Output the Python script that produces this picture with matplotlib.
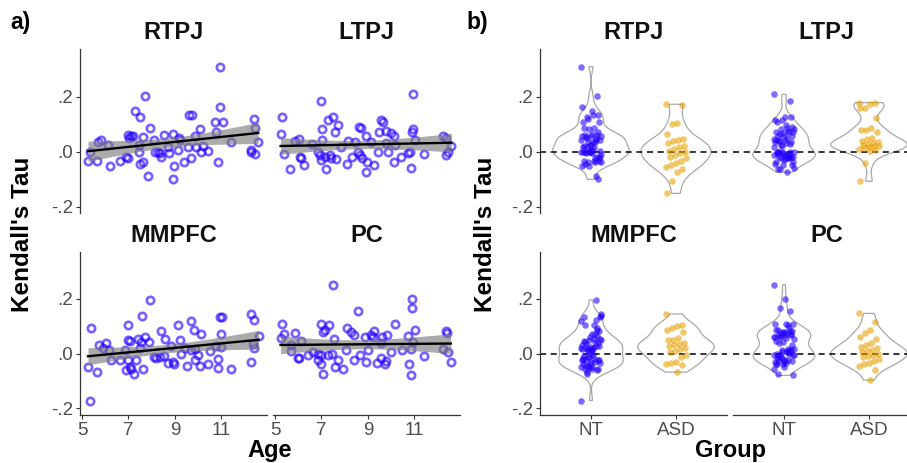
import numpy as np
import matplotlib
matplotlib.use("Agg")
import matplotlib.pyplot as plt

# 字体设置 (Arial 风格)
plt.rcParams['font.family'] = ['Liberation Sans', 'DejaVu Sans']

# ---------------- 数据 ----------------
regions = ['RTPJ', 'LTPJ', 'MMPFC', 'PC']

rtpj_age = [10.96, 7.73, 7.30, 7.51, 10.96, 9.61, 9.76, 12.40, 10.72, 11.09, 7.93, 10.07, 12.44,
            5.80, 5.69, 6.12, 6.98, 7.12, 7.02, 7.20, 7.63, 8.10, 8.53, 8.92, 9.18, 9.86, 10.79,
            11.44, 12.59, 5.34, 5.26, 5.66, 6.22, 6.62, 6.90, 7.00, 7.44, 7.50, 7.64, 7.86, 8.13,
            8.35, 8.28, 8.39, 8.74, 8.69, 8.97, 8.94, 9.14, 9.40, 9.57, 9.71, 9.93, 10.11, 10.21,
            10.43, 10.86, 12.26, 12.30, 12.44, 9.21, 7.46]
rtpj_tau = [0.309, 0.202, 0.148, 0.126, 0.161, 0.133, 0.133, 0.120, 0.107, 0.109, 0.086, 0.082, 0.085,
            0.042, 0.034, 0.024, 0.060, 0.056, 0.048, 0.058, 0.053, 0.042, 0.060, 0.063, 0.050, 0.057, 0.070,
            0.035, 0.034, 0.000, -0.034, -0.034, -0.052, -0.034, -0.018, -0.022, 0.000, -0.045, -0.036, -0.087, -0.002,
            -0.006, 0.000, -0.021, -0.004, 0.018, -0.051, -0.101, 0.006, -0.039, 0.018, -0.024, 0.017, 0.000, 0.022,
            0.002, -0.039, 0.006, 0.000, -0.010, 0.042, 0.024]

ltpj_age = [10.95, 7.00, 5.32, 5.24, 7.28, 7.50, 7.72, 7.04, 7.60, 8.60, 8.69, 9.58, 9.67, 9.48,
            9.80, 9.99, 10.11, 10.95, 10.90, 8.94, 5.85, 6.03, 6.61, 7.04, 8.15, 8.43, 9.15, 9.80,
            10.16, 11.02, 12.24, 12.38, 12.60, 5.37, 6.06, 6.13, 6.25, 5.66, 6.85, 6.92, 7.00, 7.14,
            7.36, 7.43, 7.64, 7.21, 8.10, 8.32, 8.68, 8.76, 8.95, 9.27, 8.91, 9.44, 9.87, 10.11,
            10.42, 10.73, 10.80, 10.87, 11.41, 12.38, 12.46, 7.86, 8.58]
ltpj_tau = [0.208, 0.184, 0.126, 0.063, 0.115, 0.124, 0.097, 0.082, 0.070, 0.090, 0.087, 0.114, 0.107, 0.070,
            0.075, 0.067, 0.055, 0.082, 0.073, 0.055, 0.039, 0.045, 0.027, 0.042, 0.039, 0.034, 0.034, 0.030,
            0.024, 0.042, 0.055, 0.048, 0.022, -0.010, -0.018, -0.024, -0.048, -0.064, 0.000, -0.012, -0.030, -0.018,
            -0.012, -0.022, -0.028, -0.064, -0.044, -0.018, -0.012, -0.024, -0.036, -0.048, -0.075, -0.002, 0.000, -0.039,
            -0.018, -0.006, -0.002, -0.061, -0.010, -0.012, 0.000, 0.018, 0.000]

mmpfc_age = [5.33, 5.37, 5.26, 5.66, 5.72, 6.05, 5.90, 6.15, 6.24, 6.62, 6.98, 6.98, 7.05, 7.41,
             7.55, 7.70, 7.89, 7.60, 7.92, 6.84, 6.98, 7.05, 6.91, 7.13, 7.23, 7.34, 7.63, 7.49,
             8.10, 8.20, 8.42, 8.59, 8.35, 8.53, 8.70, 8.92, 8.95, 9.14, 9.21, 8.85, 9.28, 9.54,
             9.71, 9.83, 10.14, 9.71, 9.86, 9.86, 10.00, 10.07, 10.43, 10.79, 10.86, 10.86, 10.93,
             11.05, 10.98, 10.98, 11.44, 12.26, 12.41, 12.27, 12.37, 12.40, 12.61, 10.50, 9.43]
mmpfc_tau = [-0.172, 0.092, -0.049, -0.067, 0.033, 0.037, 0.022, 0.012, -0.025, -0.025, 0.104, 0.049, 0.047, 0.053,
             0.043, 0.061, 0.043, 0.137, 0.196, 0.012, -0.025, -0.049, -0.059, -0.055, -0.076, -0.022, -0.056, 0.022,
             -0.012, -0.015, 0.082, 0.055, -0.012, -0.009, -0.034, -0.031, -0.039, 0.104, 0.049, 0.027, -0.002, -0.044,
             0.120, 0.088, 0.071, 0.012, 0.016, -0.025, -0.006, -0.047, -0.037, 0.027, -0.020, -0.052, 0.135,
             0.133, 0.071, 0.025, -0.058, 0.144, 0.123, -0.031, 0.034, 0.022, 0.065, 0.010, 0.022]

pc_age = [7.50, 8.58, 10.91, 10.91, 5.32, 5.39, 5.24, 5.85, 6.13, 5.70, 5.68, 5.99, 6.03, 7.00,
          7.31, 7.07, 7.14, 7.53, 8.12, 8.29, 8.40, 8.86, 9.27, 9.15, 9.22, 9.61, 9.84, 10.16,
          10.73, 11.05, 12.38, 12.43, 6.64, 6.85, 7.00, 6.85, 7.00, 7.07, 7.28, 7.46, 7.57, 7.72,
          7.93, 8.07, 8.40, 8.65, 8.94, 9.01, 9.41, 9.58, 9.73, 9.80, 10.01, 10.45, 10.76, 10.88,
          10.88, 10.95, 11.42, 12.24, 12.46, 12.57, 9.58, 6.42]
pc_tau = [0.252, 0.156, 0.199, 0.168, 0.110, 0.071, 0.056, 0.074, 0.047, 0.031, 0.010, -0.018, -0.015, 0.108,
          0.103, 0.080, 0.086, 0.052, 0.092, 0.080, 0.067, 0.061, 0.083, 0.067, 0.059, 0.059, 0.067, 0.108,
          0.064, 0.086, 0.083, 0.076, 0.006, -0.002, -0.006, -0.025, -0.037, -0.074, -0.006, -0.002, -0.049, -0.022,
          -0.055, 0.012, -0.025, -0.006, -0.031, 0.012, -0.034, -0.015, -0.037, -0.027, 0.006, 0.012, -0.040, -0.080,
          0.015, 0.043, -0.010, 0.018, 0.006, -0.031, 0.037, -0.006]

# ASD 组
rtpj_asd = [0.172, 0.170, 0.104, 0.102, 0.063, 0.045, 0.042, 0.038, 0.030, 0.020, 0.015, 0.010, 0.003,
            0.000, -0.005, -0.012, -0.018, -0.025, -0.035, -0.042, -0.047, -0.055, -0.065, -0.075, -0.108, -0.152]
ltpj_asd = [0.178, 0.176, 0.172, 0.160, 0.157, 0.122, 0.085, 0.080, 0.078, 0.072, 0.048, 0.045, 0.040,
            0.035, 0.030, 0.028, 0.025, 0.022, 0.020, 0.016, 0.012, 0.010, 0.006, 0.004, -0.040, -0.108]
mmpfc_asd = [0.145, 0.104, 0.100, 0.095, 0.088, 0.080, 0.056, 0.050, 0.048, 0.038, 0.034, 0.030, 0.026,
             0.020, 0.015, 0.010, 0.005, -0.005, -0.012, -0.030, -0.034, -0.038, -0.042, -0.068]
pc_asd = [0.147, 0.116, 0.085, 0.075, 0.062, 0.052, 0.040, 0.032, 0.025, 0.020, 0.012, 0.008, 0.004,
          0.000, -0.004, -0.008, -0.012, -0.020, -0.028, -0.035, -0.040, -0.045, -0.062, -0.097]

age_ticks = [5, 7, 9, 11]
tau_ticks = [-0.2, 0.0, 0.2]
tau_labels = ['-.2', '.0', '.2']
groups = ['NT', 'ASD']

# ---------------- 样式 ----------------
W, H = 907, 463
NT_COLOR = '#2200ff'
ASD_COLOR = '#e69f00'
AXIS_COLOR = '#333333'
TICK_COLOR = '#4d4d4d'
YLIM = (-0.225, 0.373)
AGE_LIM = (4.914, 12.97)
GRP_LIM = (0.4, 2.6)

fig = plt.figure(figsize=(W / 100, H / 100), dpi=100)


def box(x0, y0, x1, y1):
    # 像素坐标 (左上原点) -> figure 比例
    return [x0 / W, 1 - y1 / H, (x1 - x0) / W, (y1 - y0) / H]


def style_axes(ax, show_y, show_x):
    for s in ['top', 'right']:
        ax.spines[s].set_visible(False)
    ax.spines['left'].set_visible(show_y)
    ax.spines['bottom'].set_visible(show_x)
    for s in ['left', 'bottom']:
        ax.spines[s].set_color(AXIS_COLOR)
        ax.spines[s].set_linewidth(0.9)
    ax.set_ylim(*YLIM)
    ax.set_yticks(tau_ticks)
    if show_y:
        ax.set_yticklabels(tau_labels)
    else:
        ax.tick_params(axis='y', left=False, labelleft=False)
    if not show_x:
        ax.tick_params(axis='x', bottom=False, labelbottom=False)
    ax.tick_params(length=3, width=0.8, color=AXIS_COLOR, labelcolor=TICK_COLOR,
                   labelsize=13.5, pad=2)
    ax.patch.set_alpha(0)


def add_title(ax, title):
    ax.text(0.5, 1.1, title, transform=ax.transAxes, ha='center', va='center',
            fontsize=17, fontweight='bold', color='#111111')


def draw_age(ax, age, tau, title, show_y, show_x):
    age = np.asarray(age)
    tau = np.asarray(tau)
    ax.plot(age, tau, 'o', ms=5.3, mfc='none', mec=NT_COLOR, mew=1.9, alpha=0.62, zorder=2)
    # 线性回归 + 95% 置信带
    b1, b0 = np.polyfit(age, tau, 1)
    g = np.linspace(age.min(), age.max(), 100)
    n = len(age)
    res = tau - (b0 + b1 * age)
    s = np.sqrt((res ** 2).sum() / (n - 2))
    se = s * np.sqrt(1 / n + (g - age.mean()) ** 2 / ((age - age.mean()) ** 2).sum())
    pred = b0 + b1 * g
    ax.fill_between(g, pred - 1.998 * se, pred + 1.998 * se, color='#7f7f7f', alpha=0.65,
                    lw=0, zorder=3)
    ax.plot(g, pred, color='black', lw=1.7, zorder=4)
    ax.set_xlim(*AGE_LIM)
    ax.set_xticks(age_ticks)
    style_axes(ax, show_y, show_x)
    add_title(ax, title)


def kde(vals, grid):
    vals = np.asarray(vals)
    n = len(vals)
    iqr = np.percentile(vals, 75) - np.percentile(vals, 25)
    bw = 0.9 * min(vals.std(ddof=1), iqr / 1.34) * n ** -0.2
    z = (grid[:, None] - vals[None, :]) / bw
    return np.exp(-0.5 * z ** 2).sum(axis=1) / (n * bw * np.sqrt(2 * np.pi))


def draw_group(ax, nt, asd, title, show_y, show_x):
    data = [np.asarray(nt), np.asarray(asd)]
    grids = [np.linspace(d.min(), d.max(), 200) for d in data]
    dens = [kde(d, gr) for d, gr in zip(data, grids)]
    dmax = max(d.max() for d in dens)
    for i, (gr, de) in enumerate(zip(grids, dens)):
        w = 0.45 * de / dmax
        xs = np.concatenate([i + 1 - w, (i + 1 + w)[::-1]])
        ys = np.concatenate([gr, gr[::-1]])
        ax.fill(xs, ys, facecolor='white', edgecolor='#a8a8a8', lw=0.9, zorder=1)
    ax.axhline(0, color='black', ls=(0, (4, 3)), lw=1.1, zorder=2)
    for i, (d, col) in enumerate(zip(data, [NT_COLOR, ASD_COLOR])):
        # 固定的水平抖动
        jit = ((np.arange(len(d)) * 37) % 21 - 10) / 10 * 0.12
        ax.plot(i + 1 + jit, d, 'o', ms=4.7, color=col, mec='none', alpha=0.58, zorder=3)
    ax.set_xlim(*GRP_LIM)
    ax.set_xticks([1, 2])
    ax.set_xticklabels(groups)
    style_axes(ax, show_y, show_x)
    add_title(ax, title)


ages = [rtpj_age, ltpj_age, mmpfc_age, pc_age]
taus = [rtpj_tau, ltpj_tau, mmpfc_tau, pc_tau]
asds = [rtpj_asd, ltpj_asd, mmpfc_asd, pc_asd]

rows = [(49, 213.5), (251.7, 415)]
cols_a = [(80, 267), (273, 460)]
cols_b = [(540, 727), (733, 920)]

for k in range(4):
    r, c = divmod(k, 2)
    y0, y1 = rows[r]
    ax = fig.add_axes(box(cols_a[c][0], y0, cols_a[c][1], y1))
    draw_age(ax, ages[k], taus[k], regions[k], show_y=(c == 0), show_x=(r == 1))
    ax = fig.add_axes(box(cols_b[c][0], y0, cols_b[c][1], y1))
    draw_group(ax, taus[k], asds[k], regions[k], show_y=(c == 0), show_x=(r == 1))

# 轴标题和面板标签
fig.text(23 / W, 1 - 234 / H, "Kendall's Tau", rotation=90, ha='center', va='center',
         fontsize=17.5, fontweight='bold', color='black')
fig.text(486 / W, 1 - 234 / H, "Kendall's Tau", rotation=90, ha='center', va='center',
         fontsize=17.5, fontweight='bold', color='black')
fig.text(270 / W, 1 - 457 / H, 'Age', ha='center', va='baseline',
         fontsize=17, fontweight='bold', color='black')
fig.text(730 / W, 1 - 457 / H, 'Group', ha='center', va='baseline',
         fontsize=17, fontweight='bold', color='black')
fig.text(10 / W, 1 - 23 / H, 'a)', ha='left', va='center', fontsize=16.5, fontweight='bold')
fig.text(466 / W, 1 - 23 / H, 'b)', ha='left', va='center', fontsize=16.5, fontweight='bold')

plt.savefig('out.png', dpi=100)
